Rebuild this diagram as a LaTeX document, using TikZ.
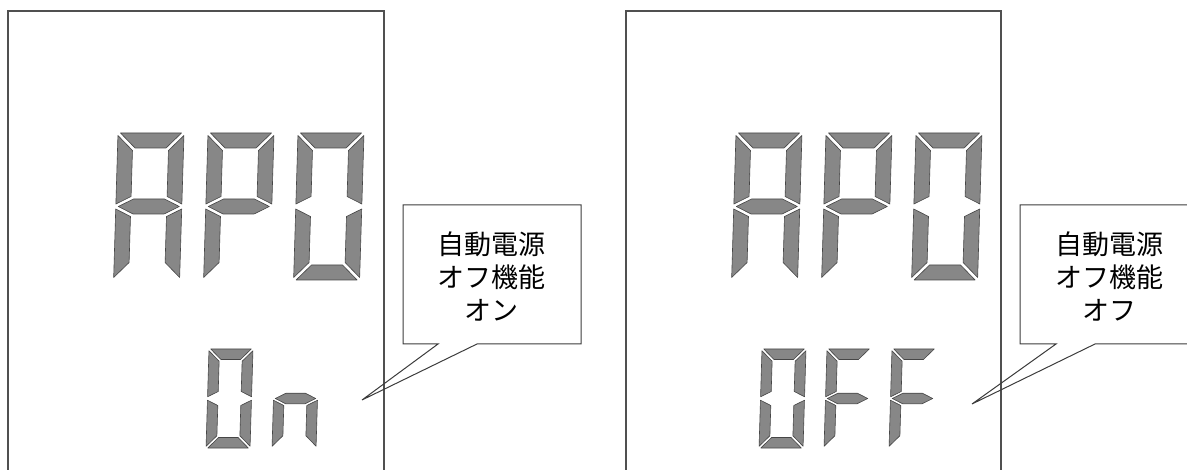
\documentclass[tikz,border=0pt]{standalone}
\usepackage{fontspec}
\newfontfamily\jp{Noto Sans CJK JP}
\definecolor{segfill}{RGB}{135,135,135}
\definecolor{segline}{RGB}{70,70,70}
\definecolor{frameline}{RGB}{80,80,80}
\definecolor{calloutline}{RGB}{60,60,60}
\tikzset{
  seg/.style={fill=segfill, draw=segline, line width=0.6pt, line join=round},
  panel/.style={draw=frameline, line width=1.2pt},
  callout/.style={draw=calloutline, line width=1pt, line join=miter},
  notetext/.style={font=\jp\fontsize{27}{33}\selectfont, align=center, inner sep=0pt, text=black}
}
\newcommand{\sgA}{\path[seg] (\sG,0) -- (\sW-\sG,0) -- (\sW-\sT-\sG,\sT) -- (\sT+\sG,\sT) -- cycle;}
\newcommand{\sgB}{\path[seg] (\sW,\sG) -- (\sW,\sM-\sG) -- (\sW-\sT,\sM-\sT/2-\sG) -- (\sW-\sT,\sT+\sG) -- cycle;}
\newcommand{\sgC}{\path[seg] (\sW,\sM+\sG) -- (\sW,\sH-\sG) -- (\sW-\sT,\sH-\sT-\sG) -- (\sW-\sT,\sM+\sT/2+\sG) -- cycle;}
\newcommand{\sgD}{\path[seg] (\sG,\sH) -- (\sW-\sG,\sH) -- (\sW-\sT-\sG,\sH-\sT) -- (\sT+\sG,\sH-\sT) -- cycle;}
\newcommand{\sgE}{\path[seg] (0,\sM+\sG) -- (\sT,\sM+\sT/2+\sG) -- (\sT,\sH-\sT-\sG) -- (0,\sH-\sG) -- cycle;}
\newcommand{\sgF}{\path[seg] (0,\sG) -- (\sT,\sT+\sG) -- (\sT,\sM-\sT/2-\sG) -- (0,\sM-\sG) -- cycle;}
\newcommand{\sgG}{\path[seg] (\sG,\sM) -- (\sT+\sG,\sM-\sT/2) -- (\sW-\sT-\sG,\sM-\sT/2) -- (\sW-\sG,\sM) -- (\sW-\sT-\sG,\sM+\sT/2) -- (\sT+\sG,\sM+\sT/2) -- cycle;}
\newcommand{\sdigit}[6]{%
  \begin{scope}[shift={(#1,#2)}, xslant=0.03]
    \def\sW{#3}\def\sH{#4}\def\sT{#5}%
    \pgfmathsetmacro\sG{#5/6}\pgfmathsetmacro\sM{#4/2}%
    #6
  \end{scope}}
\begin{document}
\begin{tikzpicture}[x=1pt,y=-1pt]
\useasboundingbox (0,0) rectangle (1187,470);
% panels
\draw[panel] (8,476) -- (8,11) -- (384,11) -- (384,476);
\draw[panel] (626,476) -- (626,11) -- (1001,11) -- (1001,476);
% left big APO
\sdigit{118}{133}{66}{147}{15}{\sgA\sgB\sgC\sgE\sgF\sgG}
\sdigit{208}{133}{66}{147}{15}{\sgA\sgB\sgE\sgF\sgG}
\sdigit{298}{133}{66}{147}{15}{\sgA\sgB\sgC\sgD\sgE\sgF}
% left On
\sdigit{209}{349}{44}{99}{10.5}{\sgA\sgB\sgC\sgD\sgE\sgF}
\sdigit{275}{349}{44}{99}{10.5}{\sgC\sgE\sgG}
% right big APO
\sdigit{736}{133}{66}{147}{15}{\sgA\sgB\sgC\sgE\sgF\sgG}
\sdigit{826}{133}{66}{147}{15}{\sgA\sgB\sgE\sgF\sgG}
\sdigit{916}{133}{66}{147}{15}{\sgA\sgB\sgC\sgD\sgE\sgF}
% right OFF
\sdigit{762}{349}{44}{99}{10.5}{\sgA\sgB\sgC\sgD\sgE\sgF}
\sdigit{827}{349}{44}{99}{10.5}{\sgA\sgE\sgF\sgG}
\sdigit{892}{349}{44}{99}{10.5}{\sgA\sgE\sgF\sgG}
% callouts
\coordinate (tipL) at (362,400);
\coordinate (tipR) at (972,404);
\draw[callout] (438,344) -- (403,344) -- (403,205) -- (581,205) -- (581,344) -- (477,344) -- (tipL) -- cycle;
\draw[callout] (1056,344) -- (1020,344) -- (1020,205) -- (1200,205) -- (1200,344) -- (1095,344) -- (tipR) -- cycle;
\node[notetext] (noteL) at (491,277) {自動電源\\オフ機能\\オン};
\node[notetext] (noteR) at (1109,277) {自動電源\\オフ機能\\オフ};
\end{tikzpicture}
\end{document}
